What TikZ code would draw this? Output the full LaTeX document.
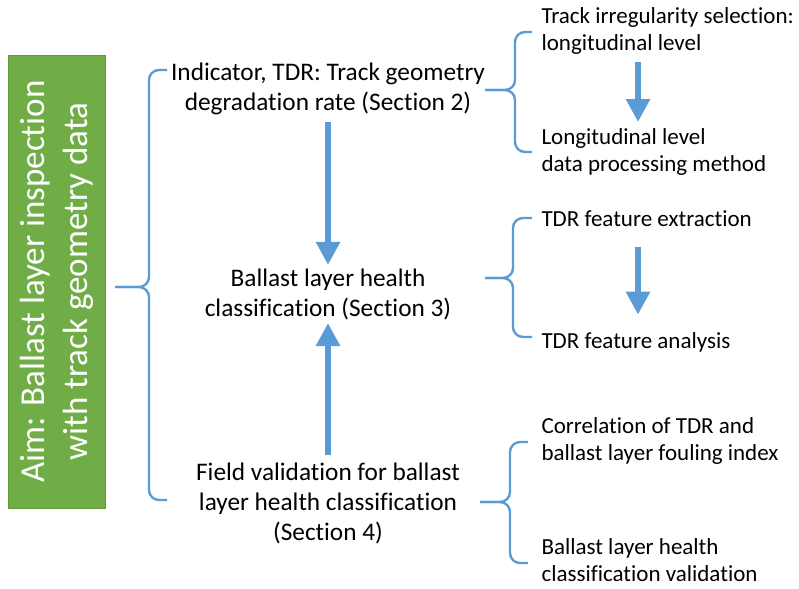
\documentclass[tikz,border=0pt]{standalone}
\usepackage{fontspec}
\setmainfont{Carlito}[Ligatures=NoCommon]
\usepackage[dvipsnames,svgnames,x11names]{xcolor}
\definecolor{aimgreen}{HTML}{70AD47}
\definecolor{aimedge}{HTML}{5E9A3A}
\definecolor{flowblue}{HTML}{5B9BD5}
\usepackage{tikz}
\usetikzlibrary{arrows.meta, positioning, calc}

\begin{document}
\begin{tikzpicture}[x=1pt, y=-1pt,
  aim/.style={draw=aimedge, fill=aimgreen, rotate=90, align=center,
              text=white, minimum width=453pt, minimum height=97pt,
              font=\fontsize{35}{43}\selectfont},
  main/.style={align=center, font=\fontsize{25.3}{30}\selectfont},
  sub/.style={anchor=west, align=left, font=\fontsize{23}{27}\selectfont},
  arr/.style={-{Triangle[width=23pt, length=23pt]}, flowblue, line width=6.5pt},
  brace/.style={flowblue, line width=2.4pt, rounded corners=10pt}
]
\useasboundingbox (0,0) rectangle (799,588);

\node[aim] (aim) at (56.5,281.5)
  {Aim: Ballast layer inspection\\with track geometry data};

% middle column
\node[main] (ind) at (328,89) {Indicator, TDR: Track geometry\\degradation rate (Section 2)};
\node[main] (cls) at (328,294) {Ballast layer health\\classification (Section 3)};
\node[main] (fld) at (328,503) {Field validation for ballast\\layer health classification\\(Section 4)};

\draw[arr, shorten <=4pt] (ind.south) -- (cls.north);
\draw[arr, shorten <=4pt] (fld.north) -- (cls.south);

% right column
\node[sub] (irr) at (538,31) {Track irregularity selection:\\longitudinal level};
\node[sub] (lon) at (538,152) {Longitudinal level\\data processing method};
\node[sub] (ext) at (538,219) {TDR feature extraction};
\node[sub] (ana) at (538,342) {TDR feature analysis};
\node[sub] (cor) at (538,441) {Correlation of TDR and\\ballast layer fouling index};
\node[sub] (val) at (538,560) {Ballast layer health\\classification validation};

\coordinate (ax) at (638,0);
\draw[arr, shorten <=4pt, shorten >=3pt] (irr.south -| ax) -- (lon.north -| ax);
\draw[arr, shorten <=16pt, shorten >=14pt] (ext.south -| ax) -- (ana.north -| ax);

% braces
\draw[brace] (167,70) -- (149,70) -- (149,287) -- (115,287);
\draw[brace] (167,500) -- (149,500) -- (149,287) -- (115,287);

\draw[brace] (532,32) -- (515,32) -- (515,90) -- (485,90);
\draw[brace] (532,152) -- (515,152) -- (515,90) -- (485,90);

\draw[brace] (532,218) -- (513,218) -- (513,278) -- (485,278);
\draw[brace] (532,337) -- (513,337) -- (513,278) -- (485,278);

\draw[brace] (528,442) -- (510,442) -- (510,502) -- (480,502);
\draw[brace] (528,563) -- (510,563) -- (510,502) -- (480,502);
\end{tikzpicture}
\end{document}
